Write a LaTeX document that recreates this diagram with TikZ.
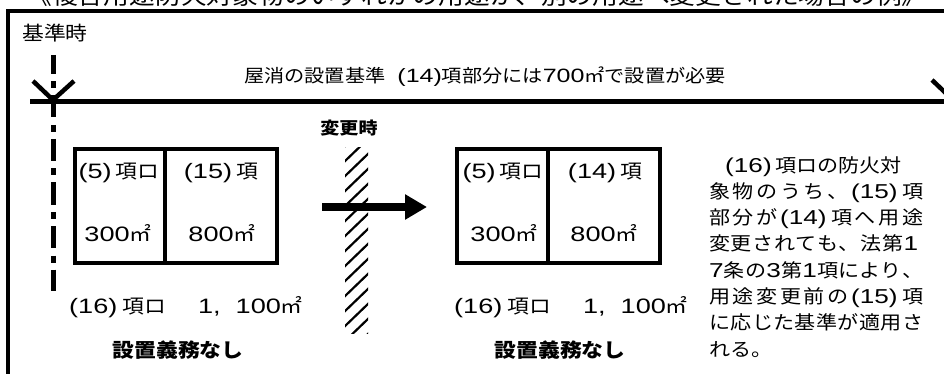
\documentclass[tikz,border=0pt]{standalone}
\usepackage{fontspec}
\setmainfont[FakeStretch=1.12]{Noto Sans CJK JP}
\newfontfamily\latfont[FakeStretch=1.3,Scale=1.07]{Liberation Sans}
\newcommand\ltn[1]{{\latfont #1}}
\def\spreadend{\spreadend}
\def\spreadloop#1{\ifx\spreadend#1\else\hfil#1\expandafter\spreadloop\fi}
\def\spreadfirst#1{#1\spreadloop}
\newcommand\pxB{\ltn{(15)}\hspace{2pt}}
\newcommand\pxC{\ltn{(14)}\hspace{2pt}}
\newcommand\dgA{\ltn{1}}
\newcommand\dgB{\ltn{3}}
\newcommand\dgC{\ltn{7}}
\usetikzlibrary{arrows.meta}
\begin{document}
\begin{tikzpicture}[x=1pt,y=-1pt,
  frameline/.style={line width=4pt},
  boxline/.style={line width=4pt},
  dimline/.style={line width=5pt},
  vmark/.style={line width=4.5pt},
  chainline/.style={line width=5pt, dash pattern=on 22pt off 7.5pt on 7pt off 7pt, dash phase=3pt},
  hatch/.style={line width=2.2pt},
  txt/.style={inner sep=0pt, font=\fontsize{19.5}{22}\selectfont},
  hdr/.style={inner sep=0pt, font=\fontsize{18}{20}\selectfont},
  boldtxt/.style={inner sep=0pt, font=\bfseries\fontsize{19.5}{22}\selectfont},
  para/.style={inner sep=0pt, anchor=base west, font=\fontsize{18.8}{26}\selectfont}]
\useasboundingbox (0,0) rectangle (944,374);
\clip (0,0) rectangle (944,374);

% title (cut off at the top)
\node[inner sep=0pt, anchor=base, font=\fontsize{23}{26}\selectfont] (title) at (477,5)
  {《複合用途防火対象物のいずれかの用途が、別の用途へ変更された場合の例》};

% frame
\coordinate (fTL) at (7.5,11.5);
\coordinate (fTR) at (960,11.5);
\coordinate (fBL) at (7.5,390);
\draw[frameline] (fBL) -- (fTL) -- (fTR);

\node[txt] (kijun) at (55,33) {基準時};

% dimension line
\coordinate (dS) at (30,102);
\coordinate (dE) at (960,102);
\draw[dimline] (dS) -- (dE);
\coordinate (vL) at (53,100);
\coordinate (vLa) at (33,81);
\coordinate (vLb) at (74,81);
\draw[vmark] (vLa) -- (vL) -- (vLb);
\coordinate (vR) at (953,100);
\coordinate (vRa) at (932,80);
\coordinate (vRb) at (974,80);
\draw[vmark] (vRa) -- (vR) -- (vRb);
\node[hdr] (std) at (485,77) {屋消の設置基準\hspace{12pt}\ltn{(14)}項部分には\ltn{700}㎡で設置が必要};

% chain line
\coordinate (cT) at (53,55);
\coordinate (cB) at (53,291);
\draw[chainline] (cT) -- (cB);

% left building
\draw[boxline] (75,149) rectangle (277,263);
\draw[boxline] (165,149) -- (165,263);
\node[txt] (l1a) at (119,173) {\ltn{(5)}\hspace{4pt}項ロ};
\node[txt] (l2a) at (221,173) {\ltn{(15)}\hspace{4pt}項};
\node[txt] (l1b) at (118,233) {\ltn{300}㎡};
\node[txt] (l2b) at (222,233) {\ltn{800}㎡};
\node[txt] (ltot) at (186,307) {\ltn{(16)}\hspace{5pt}項ロ\hspace{32pt}\ltn{1,\hspace{15pt}100}㎡};
\node[boldtxt] (lres) at (178,350) {設置義務なし};

% change
\node[boldtxt, font=\bfseries\fontsize{17}{20}\selectfont] (henko) at (349,128) {変更時};
\begin{scope}
  \clip (345,148) rectangle (368,333);
  \foreach \yy in {135,150,...,345} \draw[hatch] (343,\yy+13) -- (370,\yy-13);
\end{scope}
\coordinate (aS) at (322,207);
\coordinate (aE) at (427,207);
\draw[line width=8pt, -{Triangle[length=22pt,width=24pt]}] (aS) -- (aE);

% right building
\draw[boxline] (457,149) rectangle (660,263);
\draw[boxline] (548,149) -- (548,263);
\node[txt] (r1a) at (503,173) {\ltn{(5)}\hspace{4pt}項ロ};
\node[txt] (r2a) at (605,173) {\ltn{(14)}\hspace{4pt}項};
\node[txt] (r1b) at (504,233) {\ltn{300}㎡};
\node[txt] (r2b) at (604,233) {\ltn{800}㎡};
\node[txt] (rtot) at (571,307) {\ltn{(16)}\hspace{5pt}項ロ\hspace{32pt}\ltn{1,\hspace{15pt}100}㎡};
\node[boldtxt] (rres) at (560,350) {設置義務なし};

% explanation
\node[para] (p1) at (709,172.0) {\hspace{16pt}\ltn{(16)}\hspace{4pt}項ロの防火対};
\node[para] (p2) at (709,198.3) {\makebox[214pt][s]{\spreadfirst 象物のうち、\pxB 項\spreadend}};
\node[para] (p3) at (709,224.6) {\makebox[214pt][s]{\spreadfirst 部分が\pxC 項へ用途\spreadend}};
\node[para] (p4) at (709,250.9) {\makebox[209pt][s]{\spreadfirst 変更されても、法第\dgA\spreadend}};
\node[para] (p5) at (709,277.2) {\makebox[214pt][s]{\spreadfirst\dgC 条の\dgB 第\dgA 項により、\spreadend}};
\node[para] (p6) at (709,303.5) {\makebox[214pt][s]{\spreadfirst 用途変更前の\pxB 項\spreadend}};
\node[para] (p7) at (709,329.8) {\makebox[214pt][s]{\spreadfirst に応じた基準が適用さ\spreadend}};
\node[para] (p8) at (709,356.1) {れる。};
\end{tikzpicture}
\end{document}
